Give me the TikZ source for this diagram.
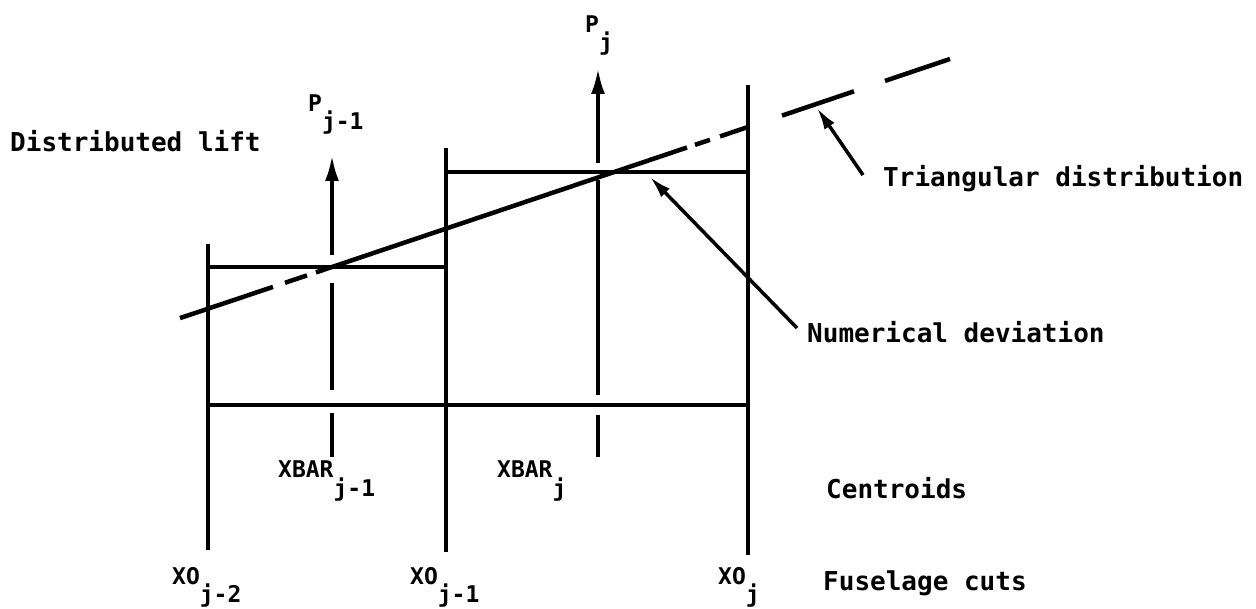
\documentclass[tikz,border=0pt]{standalone}
\usepackage{fontspec}
\newfontfamily\tw{DejaVu Sans Mono}
\usetikzlibrary{arrows.meta}
\newcommand\lsub[1]{\raisebox{-18pt}{#1}}
\begin{document}
\begin{tikzpicture}[x=1pt,y=-1pt,
  ln/.style={line width=4.5pt},
  big/.style={font=\tw\bfseries\fontsize{26}{30}\selectfont, inner sep=0pt, anchor=base west},
  lab/.style={font=\tw\bfseries\fontsize{23}{27}\selectfont, inner sep=0pt, anchor=base west},
  up/.style={line width=4pt,-{Latex[length=26pt,width=14pt]}},
  lead/.style={line width=3.5pt,-{Latex[length=22pt,width=12pt]}},
]
\useasboundingbox (0,0) rectangle (1256,609);
% fuselage cuts
\coordinate (a1) at (208,244); \coordinate (a2) at (208,550);
\coordinate (b1) at (446,148); \coordinate (b2) at (446,552);
\coordinate (c1) at (748,85);  \coordinate (c2) at (748,555);
\draw[ln] (a1) -- (a2);
\draw[ln] (b1) -- (b2);
\draw[ln] (c1) -- (c2);
% horizontal levels
\coordinate (h1a) at (208,267); \coordinate (h1b) at (446,267);
\coordinate (h2a) at (446,172); \coordinate (h2b) at (748,172);
\coordinate (h3a) at (208,405); \coordinate (h3b) at (748,405);
\draw[ln] (h1a) -- (h1b);
\draw[ln] (h2a) -- (h2b);
\draw[ln] (h3a) -- (h3b);
% centroid j-1
\coordinate (p1a) at (332,255); \coordinate (p1b) at (332,155);
\coordinate (p1c) at (332,283); \coordinate (p1d) at (332,390);
\coordinate (p1e) at (332,413); \coordinate (p1f) at (332,457);
\draw[up] (p1a) -- (p1b);
\draw[ln] (p1c) -- (p1d);
\draw[ln] (p1e) -- (p1f);
% centroid j
\coordinate (p2a) at (598,163); \coordinate (p2b) at (598,68);
\coordinate (p2c) at (598,180); \coordinate (p2d) at (598,395);
\coordinate (p2e) at (598,415); \coordinate (p2f) at (598,457);
\draw[up] (p2a) -- (p2b);
\draw[ln] (p2c) -- (p2d);
\draw[ln] (p2e) -- (p2f);
% triangular distribution (phantom line)
\coordinate (t1) at (180,318.1); \coordinate (t2) at (273,286.9);
\coordinate (t3) at (285,282.8); \coordinate (t4) at (307,275.4);
\coordinate (t5) at (316,272.4); \coordinate (t6) at (687,147.5);
\coordinate (t7) at (695,144.8); \coordinate (t8) at (710,139.8);
\coordinate (t9) at (720,136.4); \coordinate (t10) at (748,127.0);
\coordinate (t11) at (782,115.6); \coordinate (t12) at (854,91.3);
\coordinate (t13) at (885,80.9); \coordinate (t14) at (950,59.0);
\draw[ln] (t1) -- (t2);
\draw[ln] (t3) -- (t4);
\draw[ln] (t5) -- (t6);
\draw[ln] (t7) -- (t8);
\draw[ln] (t9) -- (t10);
\draw[ln] (t11) -- (t12);
\draw[ln] (t13) -- (t14);
% labels
\node[big] (dl) at (10,152) {Distributed lift};
\node[big] (td) at (883,187) {Triangular distribution};
\node[big] (nd) at (807,343) {Numerical deviation};
\node[big] (ce) at (826,498) {Centroids};
\node[big] (fc) at (823,590) {Fuselage cuts};
\node[lab] (pj1) at (308,112) {P\lsub{j-1}};
\node[lab] (pj) at (585,33) {P\lsub{j}};
\node[lab] (xb1) at (278,478) {XBAR\lsub{j-1}};
\node[lab] (xb) at (497,478) {XBAR\lsub{j}};
\node[lab] (xo2) at (172,584) {XO\lsub{j-2}};
\node[lab] (xo1) at (410,584) {XO\lsub{j-1}};
\node[lab] (xo) at (718,584) {XO\lsub{j}};
% leaders
\coordinate (l1s) at (863,175); \coordinate (l1e) at (817,108);
\coordinate (l2s) at (797,328); \coordinate (l2e) at (650,177);
\draw[lead] (l1s) -- (l1e);
\draw[lead] (l2s) -- (l2e);
\end{tikzpicture}
\end{document}
